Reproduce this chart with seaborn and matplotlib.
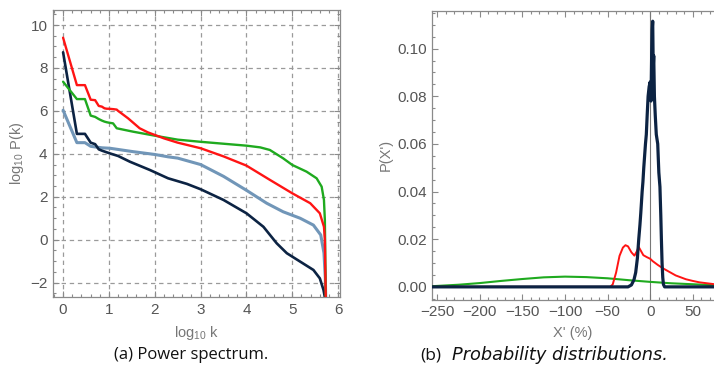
import numpy as np
import pandas as pd
import matplotlib
matplotlib.use("Agg")
import matplotlib.pyplot as plt
from matplotlib.ticker import MultipleLocator, FormatStrFormatter
import seaborn as sns

# (a) power spectrum: log10 k vs log10 P(k)
red_x = [0, 0.301, 0.477, 0.602, 0.699, 0.778, 0.845, 0.903, 0.954, 1.0, 1.1, 1.17, 1.2, 1.27, 1.42, 1.67, 1.85, 2.0, 2.2, 2.5,
         3.0, 3.5, 4.0, 4.5, 5.0, 5.39, 5.6, 5.69, 5.71, 5.72, 5.73]
red_y = [9.41, 7.2, 7.2, 6.52, 6.5, 6.23, 6.2, 6.12, 6.1, 6.1, 6.08, 6.06, 6.0, 5.89, 5.65, 5.19, 5.0, 4.88, 4.72, 4.52,
         4.26, 3.88, 3.45, 2.8, 2.16, 1.7, 1.23, 0.6, 0.0, -1.5, -2.8]

green_x = [0, 0.301, 0.477, 0.602, 0.699, 0.778, 0.845, 0.903, 0.954, 1.0, 1.09, 1.17, 1.53, 2.04, 2.5, 3.0, 3.5, 4.0,
           4.3, 4.51, 4.8, 5.0, 5.31, 5.53, 5.64, 5.69, 5.71, 5.72, 5.73]
green_y = [7.36, 6.55, 6.55, 5.78, 5.72, 5.62, 5.55, 5.5, 5.47, 5.45, 5.42, 5.19, 5.03, 4.83, 4.66, 4.56, 4.47, 4.38,
           4.3, 4.18, 3.79, 3.48, 3.17, 2.86, 2.47, 1.85, 0.9, -1.0, -2.8]

steel_x = [0, 0.301, 0.477, 0.602, 0.7, 0.85, 1.02, 1.53, 2.0, 2.29, 2.5, 3.0, 3.5, 4.0, 4.44, 4.8, 5.17, 5.46, 5.62,
           5.69, 5.72, 5.73]
steel_y = [6.03, 4.52, 4.52, 4.35, 4.32, 4.28, 4.26, 4.1, 3.97, 3.86, 3.8, 3.5, 2.95, 2.3, 1.7, 1.3, 1.0, 0.68, 0.22,
           -0.62, -1.8, -2.8]

navy_x = [0, 0.301, 0.477, 0.602, 0.699, 0.778, 0.845, 1.02, 1.2, 1.46, 1.89, 2.29, 2.7, 3.0, 3.5, 4.0, 4.37, 4.66,
          4.88, 5.17, 5.46, 5.6, 5.68, 5.72]
navy_y = [8.73, 4.93, 4.93, 4.52, 4.45, 4.21, 4.15, 4.02, 3.9, 3.63, 3.25, 2.86, 2.6, 2.35, 1.85, 1.23, 0.6, -0.17,
          -0.63, -1.02, -1.41, -1.8, -2.34, -2.8]

# (b) probability distributions: X' (%) vs P(X')
gb_x = [-256, -250, -225, -200, -175, -150, -125, -100, -75, -50, -25, 0, 25, 50, 76]
gb_y = [0.0003, 0.0004, 0.0009, 0.0016, 0.0025, 0.0033, 0.0040, 0.0043, 0.0041, 0.0036, 0.0028, 0.0021, 0.0015,
        0.0011, 0.0007]

rb_x = [-256, -47, -44, -40, -36, -32, -29, -26, -22, -18.5, -15.5, -13.5, -11, -8, -4, 0, 3, 9, 15, 22, 30, 42, 50,
        58, 76]
rb_y = [0, 0, 0.001, 0.006, 0.013, 0.0165, 0.0175, 0.017, 0.0145, 0.0131, 0.015, 0.0168, 0.0152, 0.0133, 0.0125,
        0.0118, 0.0108, 0.0092, 0.0078, 0.0064, 0.0048, 0.0032, 0.0025, 0.0019, 0.0011]

nb_x = [-256, -26, -22, -19, -17, -15, -13.4, -12, -11, -9.4, -8.5, -7.5, -5.5, -4.5, -3.5, -2.4, -1.2, 0, 1, 1.8,
        2.4, 3.0, 3.6, 4.2, 5.0, 6.0, 7.2, 8.9, 10.2, 11.5, 12.5, 13.2, 14.0, 14.8, 15.6, 17, 20, 76]
nb_y = [0, 0, 0.0008, 0.003, 0.006, 0.012, 0.02, 0.026, 0.031, 0.04, 0.044, 0.05, 0.06, 0.064, 0.072, 0.08, 0.084,
        0.086, 0.078, 0.098, 0.108, 0.1115, 0.092, 0.097, 0.08, 0.072, 0.064, 0.06, 0.048, 0.042, 0.03, 0.02, 0.01,
        0.004, 0.001, 0, 0, 0]

RED = "#ff1414"
GREEN = "#1faa1f"
STEEL = "#7196b8"
NAVY = "#0c2343"

sns.set_theme(style="ticks")
plt.rcParams["font.family"] = ["Liberation Sans", "DejaVu Sans"]
plt.rcParams["mathtext.fontset"] = "custom"
plt.rcParams["mathtext.rm"] = "Liberation Sans"
plt.rcParams["mathtext.default"] = "regular"

fig = plt.figure(figsize=(7.14, 3.76), dpi=100)
ax1 = fig.add_axes([53 / 714, 1 - 297 / 376, 287 / 714, 287 / 376])
ax2 = fig.add_axes([432.3 / 714, 1 - 299.5 / 376, (714 - 432.3) / 714, 289 / 376])

tick_col = "#555555"
frame_col = "#8a8a8a"


def style_axes(ax):
    for s in ax.spines.values():
        s.set_color(frame_col)
        s.set_linewidth(0.9)
    ax.tick_params(which="both", direction="in", top=True, right=True, color=frame_col,
                   labelcolor=tick_col, labelsize=11, width=0.8)
    ax.tick_params(which="major", length=4, pad=4)
    ax.tick_params(which="minor", length=2.2)


def draw(ax, xs, ys, color, lw, z):
    df = pd.DataFrame({"x": xs, "y": ys})
    sns.lineplot(data=df, x="x", y="y", ax=ax, color=color, lw=lw, estimator=None, sort=False, zorder=z)


# panel (a)
draw(ax1, steel_x, steel_y, STEEL, 2.2, 3)
draw(ax1, navy_x, navy_y, NAVY, 1.9, 4)
draw(ax1, green_x, green_y, GREEN, 1.7, 5)
draw(ax1, red_x, red_y, RED, 1.7, 6)
ax1.set_xlim(-0.22, 6.04)
ax1.set_ylim(-2.67, 10.7)
ax1.xaxis.set_major_locator(MultipleLocator(1))
ax1.xaxis.set_minor_locator(MultipleLocator(0.2))
ax1.yaxis.set_major_locator(MultipleLocator(2))
ax1.yaxis.set_minor_locator(MultipleLocator(0.5))
ax1.grid(True, which="major", color="#9a9a9a", lw=0.9, ls=(0, (3.5, 3)))
style_axes(ax1)
ax1.set_xlabel(r"$log_{10}$ k", color="#777777", fontsize=10.5, labelpad=5)
ax1.set_ylabel(r"$log_{10}$ P(k)", color="#777777", fontsize=10.5, labelpad=3)

# panel (b)
ax2.axvline(0, color="#777777", lw=0.8, zorder=1)
draw(ax2, gb_x, gb_y, GREEN, 1.5, 3)
draw(ax2, rb_x, rb_y, RED, 1.4, 4)
draw(ax2, nb_x, nb_y, NAVY, 2.3, 5)
ax2.set_xlim(-255.9, 75)
ax2.set_ylim(-0.0053, 0.116)
ax2.xaxis.set_major_locator(MultipleLocator(50))
ax2.xaxis.set_minor_locator(MultipleLocator(10))
ax2.yaxis.set_major_locator(MultipleLocator(0.02))
ax2.yaxis.set_minor_locator(MultipleLocator(0.005))
ax2.yaxis.set_major_formatter(FormatStrFormatter("%.2f"))
style_axes(ax2)
ax2.spines["right"].set_visible(False)
ax2.tick_params(which="both", right=False)
ax2.set_xlabel("X' (%)", color="#777777", fontsize=10.5, labelpad=5)
ax2.set_ylabel("P(X')", color="#777777", fontsize=10.5, labelpad=3)

# captions
fig.text(191 / 714, 1 - 355 / 376, "(a) Power spectrum.", ha="center", va="center",
         fontsize=12, family="Open Sans", color="#111111")
fig.text(420 / 714, 1 - 355 / 376, "(b)", ha="left", va="center",
         fontsize=12.5, family="Open Sans", color="#111111")
fig.text(452 / 714, 1 - 355 / 376, "Probability distributions.", ha="left", va="center",
         fontsize=12.8, family="DejaVu Sans", style="italic", color="#111111")

fig.savefig("out.png", dpi=100)
